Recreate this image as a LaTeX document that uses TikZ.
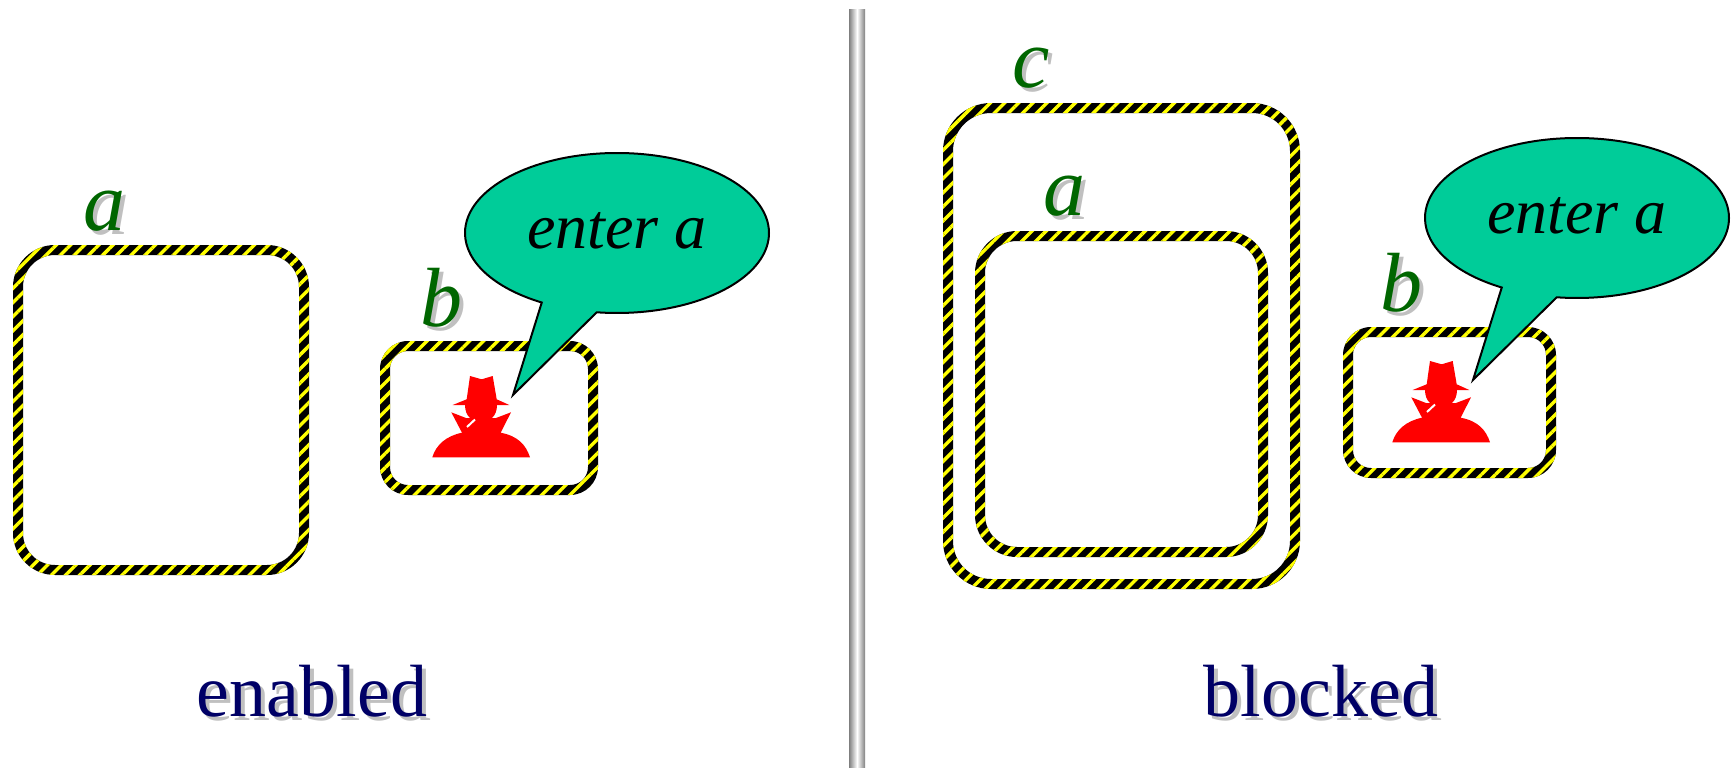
\documentclass[tikz,border=0pt]{standalone}
\usepackage{fontspec}
\setmainfont{Liberation Serif}
\usetikzlibrary{patterns.meta,shapes.callouts}
\definecolor{labelgreen}{RGB}{0,102,0}
\definecolor{captionblue}{RGB}{0,0,102}
\definecolor{saymint}{RGB}{0,204,153}
\definecolor{shadowgray}{RGB}{192,192,192}

\tikzset{
  hazard/.style={even odd rule,
    pattern={Lines[angle=45,distance=10pt,line width=3.4pt]},pattern color=yellow},
  letter/.style={font=\fontsize{84}{90}\selectfont\itshape,anchor=base,inner sep=0pt},
  caption/.style={font=\fontsize{74}{80}\selectfont,anchor=base,inner sep=0pt},
  say/.style={ellipse callout,draw=black,line width=2pt,fill=saymint,inner sep=0pt,
    minimum width=304pt,minimum height=160pt,callout pointer arc=22,
    font=\fontsize{64}{68}\selectfont\itshape},
  spy/.pic={
    \fill[red] (470,376) -- (481.7,379.3) -- (492.7,376) -- (496.7,399.3) -- (509.3,405)
      -- (452.7,405) -- (466.7,399.3) -- cycle;
    \fill[red] (465,405) .. controls (465,416) and (472,422) .. (481,422)
      .. controls (490,422) and (497,416) .. (497,405) -- cycle;
    \fill[red] (451.3,412.3) -- (466,418) -- (496,418) -- (511,412.3) -- (500.7,432.7)
      .. controls (518,436) and (526,445) .. (530,457.3) -- (432.3,457.3)
      .. controls (436,445) and (446,436) .. (462,432.7) -- cycle;
    \draw[white,line width=2pt] (467,427) -- (475,419.5);
  }
}
\newcommand{\hazardbox}[5]{%
  \def\hazardpath{[rounded corners=#5pt] (#1,#2) rectangle (#3,#4)
    [rounded corners=#5pt-10pt] (#1+10,#2+10) rectangle (#3-10,#4-10)}
  \fill[black,even odd rule] \hazardpath;
  \path[hazard] \hazardpath;}
\newcommand{\shadowed}[6]{%
  \node[#2,text=shadowgray] (#1s) at (#3+4,#4+4) {#6};
  \node[#2,text=#5] (#1) at (#3,#4) {#6};}

\begin{document}
\begin{tikzpicture}[x=1pt,y=-1pt]
\useasboundingbox (0,0) rectangle (1733,768);

% left side
\hazardbox{13}{245}{309}{575}{42}
\hazardbox{380}{341}{598}{495}{28}
\pic at (0,0) {spy};
\node[say,callout absolute pointer={(513,395)}] (sayleft) at (617,233) {\raisebox{5pt}{enter a}};
\shadowed{a}{letter}{104}{230}{labelgreen}{a}
\shadowed{b}{letter}{441}{326}{labelgreen}{b}
\shadowed{enabled}{caption}{312}{716}{captionblue}{enabled}

% divider
\node[minimum width=16pt,minimum height=758pt,inner sep=0pt,left color=gray,right color=gray,
  middle color=white] (divider) at (857,389) {};

% right side
\hazardbox{943}{103}{1300}{589}{48}
\hazardbox{975}{231}{1268}{557}{42}
\hazardbox{1343}{327}{1556}{478}{28}
\pic at (960,-15) {spy};
\node[say,callout absolute pointer={(1473,380)}] (sayright) at (1577,218) {\raisebox{5pt}{enter a}};
\shadowed{c}{letter}{1031}{88}{labelgreen}{c}
\shadowed{a2}{letter}{1064}{215}{labelgreen}{a}
\shadowed{b2}{letter}{1401}{311}{labelgreen}{b}
\shadowed{blocked}{caption}{1321}{716}{captionblue}{blocked}
\end{tikzpicture}
\end{document}
